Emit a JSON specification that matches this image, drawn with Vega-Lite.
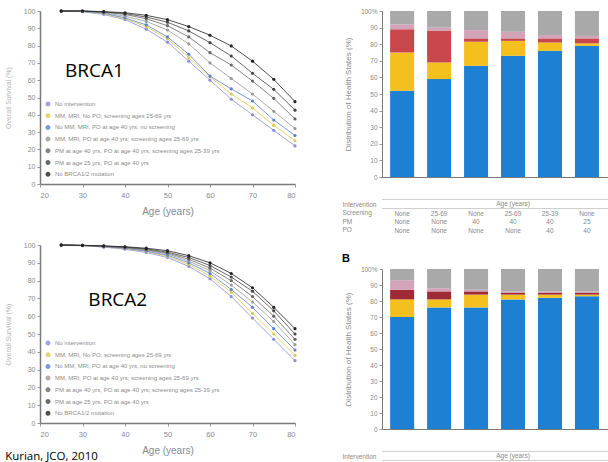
{
  "$schema": "https://vega.github.io/schema/vega-lite/v6.json",
  "background": "white",
  "padding": {"left": 4, "top": 7, "right": 0, "bottom": 0},
  "config": {
    "font": "Liberation Sans",
    "view": {"stroke": null},
    "axis": {"grid": false, "domainColor": "#7a7a7a", "tickColor": "#9a9a9a", "labelColor": "#8a8a8a", "titleColor": "#8a8a8a", "titleFontWeight": "normal", "labelFontSize": 7, "tickSize": 3, "labelOverlap": false}
  },
  "datasets": {
    "brca1": [
      {"age": 25, "s1": 100, "s2": 100, "s3": 100, "s4": 100, "s5": 100, "s6": 100, "s7": 100},
      {"age": 30, "s1": 99.6, "s2": 99.7, "s3": 99.8, "s4": 99.8, "s5": 100, "s6": 100, "s7": 100},
      {"age": 35, "s1": 98, "s2": 98.5, "s3": 98.8, "s4": 99, "s5": 99.3, "s6": 99.5, "s7": 99.6},
      {"age": 40, "s1": 95, "s2": 95.5, "s3": 96, "s4": 97, "s5": 98, "s6": 98.5, "s7": 99},
      {"age": 45, "s1": 89.5, "s2": 91, "s3": 92, "s4": 94, "s5": 95.5, "s6": 96.5, "s7": 97.5},
      {"age": 50, "s1": 82, "s2": 84, "s3": 85, "s4": 89, "s5": 91.5, "s6": 93.5, "s7": 95},
      {"age": 55, "s1": 71, "s2": 73, "s3": 75, "s4": 81, "s5": 85, "s6": 88.5, "s7": 91},
      {"age": 60, "s1": 60, "s2": 62, "s3": 62.4, "s4": 70, "s5": 75.9, "s6": 81.7, "s7": 86},
      {"age": 65, "s1": 49, "s2": 52, "s3": 55, "s4": 61, "s5": 68.8, "s6": 74, "s7": 79.8},
      {"age": 70, "s1": 40, "s2": 44, "s3": 48, "s4": 52, "s5": 59.5, "s6": 64, "s7": 71},
      {"age": 75, "s1": 31, "s2": 34, "s3": 37, "s4": 42, "s5": 49.5, "s6": 54.7, "s7": 60.5},
      {"age": 80, "s1": 22, "s2": 25, "s3": 28, "s4": 32, "s5": 37.6, "s6": 42.7, "s7": 47.6}
    ],
    "brca2": [
      {"age": 25, "s1": 100, "s2": 100, "s3": 100, "s4": 100, "s5": 100, "s6": 100, "s7": 100},
      {"age": 30, "s1": 99.6, "s2": 99.6, "s3": 99.7, "s4": 99.7, "s5": 99.8, "s6": 99.8, "s7": 99.8},
      {"age": 35, "s1": 98.8, "s2": 99, "s3": 99.1, "s4": 99.2, "s5": 99.3, "s6": 99.4, "s7": 99.5},
      {"age": 40, "s1": 97.6, "s2": 98, "s3": 98.2, "s4": 98.4, "s5": 98.6, "s6": 98.8, "s7": 99},
      {"age": 45, "s1": 95.8, "s2": 96.3, "s3": 96.6, "s4": 97, "s5": 97.4, "s6": 97.8, "s7": 98.2},
      {"age": 50, "s1": 93, "s2": 93.7, "s3": 94.3, "s4": 95, "s5": 95.5, "s6": 96, "s7": 96.8},
      {"age": 55, "s1": 88, "s2": 89, "s3": 90, "s4": 91, "s5": 92, "s6": 93, "s7": 94},
      {"age": 60, "s1": 81, "s2": 82.5, "s3": 84, "s4": 85.5, "s5": 87, "s6": 88.5, "s7": 90},
      {"age": 65, "s1": 71, "s2": 73.5, "s3": 75, "s4": 77.5, "s5": 80, "s6": 82, "s7": 84},
      {"age": 70, "s1": 59, "s2": 61.6, "s3": 65, "s4": 68, "s5": 71, "s6": 74, "s7": 76},
      {"age": 75, "s1": 47, "s2": 50, "s3": 53, "s4": 57, "s5": 60, "s6": 63, "s7": 65},
      {"age": 80, "s1": 35, "s2": 38, "s3": 41, "s4": 44, "s5": 47, "s6": 50, "s7": 53}
    ],
    "barsA": [
      {"iv": "None|None|None", "e_well": 52, "d_bc": 23, "c_oc": 14, "b_oth": 3, "a_dead": 8},
      {"iv": "25-69|None|None", "e_well": 59, "d_bc": 10, "c_oc": 19, "b_oth": 2, "a_dead": 10},
      {"iv": "None|40|None", "e_well": 67, "d_bc": 14.5, "c_oc": 2, "b_oth": 5, "a_dead": 11.5},
      {"iv": "25-69|40|None", "e_well": 73, "d_bc": 9, "c_oc": 1.5, "b_oth": 4, "a_dead": 12.5},
      {"iv": "25-39|40|40", "e_well": 76, "d_bc": 5, "c_oc": 2.5, "b_oth": 2, "a_dead": 14.5},
      {"iv": "None|25|40", "e_well": 79, "d_bc": 1.5, "c_oc": 3, "b_oth": 1.5, "a_dead": 15},
      {"iv": "25-69|25|40", "e_well": 80, "d_bc": 1, "c_oc": 3, "b_oth": 1, "a_dead": 15},
      {"iv": "None|None|40", "e_well": 82, "d_bc": 1, "c_oc": 2, "b_oth": 1, "a_dead": 14}
    ],
    "barsB": [
      {"iv": "None|None|None", "e_well": 70, "d_bc": 11, "c_oc": 6, "b_oth": 6, "a_dead": 7},
      {"iv": "25-69|None|None", "e_well": 76, "d_bc": 5, "c_oc": 5, "b_oth": 2, "a_dead": 12},
      {"iv": "None|40|None", "e_well": 76, "d_bc": 8, "c_oc": 2, "b_oth": 1, "a_dead": 13},
      {"iv": "25-69|40|None", "e_well": 81, "d_bc": 3, "c_oc": 1, "b_oth": 1, "a_dead": 14},
      {"iv": "25-39|40|40", "e_well": 82, "d_bc": 2, "c_oc": 1, "b_oth": 1, "a_dead": 14},
      {"iv": "None|25|40", "e_well": 83, "d_bc": 1, "c_oc": 1, "b_oth": 1, "a_dead": 14},
      {"iv": "25-69|25|40", "e_well": 84, "d_bc": 1, "c_oc": 1, "b_oth": 1, "a_dead": 13},
      {"iv": "None|None|40", "e_well": 85, "d_bc": 1, "c_oc": 1, "b_oth": 1, "a_dead": 12}
    ]
  },
  "hconcat": [
    {
      "vconcat": [
        {
          "width": 255,
          "height": 173,
          "layer": [
            {
              "data": {"name": "brca1"},
              "transform": [{"fold": ["s1", "s2", "s3", "s4", "s5", "s6", "s7"], "as": ["key", "v"]}],
              "mark": {"type": "line", "strokeWidth": 1, "opacity": 0.8, "point": {"size": 10, "filled": true}},
              "encoding": {
                "x": {"field": "age", "type": "quantitative", "scale": {"domain": [20, 80], "nice": false}, "axis": {"values": [20, 30, 40, 50, 60, 70, 80], "title": "Age (years)", "titleFontSize": 10, "labelFontSize": 7.5, "labelPadding": 4, "titlePadding": 8, "domainWidth": 1.5}},
                "y": {"field": "v", "type": "quantitative", "scale": {"domain": [0, 100], "nice": false}, "axis": {"values": [0, 10, 20, 30, 40, 50, 60, 70, 80, 90, 100], "title": "Overall Survival (%)", "titleFontSize": 7, "titlePadding": 12, "titleColor": "#b5b5b5", "domainWidth": 1.5}},
                "color": {"field": "key", "type": "nominal", "scale": {"domain": ["s1", "s2", "s3", "s4", "s5", "s6", "s7"], "range": ["#8c8ce0", "#d9cc4a", "#5a7fd6", "#999999", "#666666", "#444444", "#222222"]},
                  "legend": {"orient": "bottom-left", "offset": 5, "title": null, "labelExpr": "['No intervention','MM, MRI, No PO; screening ages 25-69 yrs','No MM, MRI, PO at age 40 yrs, no screening','MM, MRI, PO at age 40 yrs; screening ages 25-69 yrs','PM at age 40 yrs, PO at age 40 yrs; screening ages 25-39 yrs','PM at age 25 yrs, PO at age 40 yrs','No BRCA1/2 mutation'][toNumber(substring(datum.label,1))-1]", "labelFontSize": 6, "labelColor": "#8c8c8c", "symbolSize": 12, "rowPadding": 1.7, "labelLimit": 260}}
              }
            },
            {
              "data": {"values": [{}]},
              "mark": {"type": "text", "fontSize": 19, "font": "Open Sans", "color": "black"},
              "encoding": {
                "x": {"datum": 32.8, "type": "quantitative", "axis": {"values": [20, 30, 40, 50, 60, 70, 80], "title": "Age (years)", "titleFontSize": 10, "labelFontSize": 7.5, "labelPadding": 4, "titlePadding": 8, "domainWidth": 1.5}},
                "y": {"datum": 65.3, "type": "quantitative", "axis": {"values": [0, 10, 20, 30, 40, 50, 60, 70, 80, 90, 100], "title": "Overall Survival (%)", "titleFontSize": 7, "titlePadding": 12, "titleColor": "#b5b5b5", "domainWidth": 1.5}},
                "text": {"value": "BRCA1"}
              }
            }
          ]
        },
        {
          "width": 255,
          "height": 178,
          "layer": [
            {
              "data": {"name": "brca2"},
              "transform": [{"fold": ["s1", "s2", "s3", "s4", "s5", "s6", "s7"], "as": ["key", "v"]}],
              "mark": {"type": "line", "strokeWidth": 1, "opacity": 0.8, "point": {"size": 10, "filled": true}},
              "encoding": {
                "x": {"field": "age", "type": "quantitative", "scale": {"domain": [20, 80], "nice": false}, "axis": {"values": [20, 30, 40, 50, 60, 70, 80], "title": "Age (years)", "titleFontSize": 10, "labelFontSize": 7.5, "labelPadding": 4, "titlePadding": 8, "domainWidth": 1.5}},
                "y": {"field": "v", "type": "quantitative", "scale": {"domain": [0, 100], "nice": false}, "axis": {"values": [0, 10, 20, 30, 40, 50, 60, 70, 80, 90, 100], "title": "Overall Survival (%)", "titleFontSize": 7, "titlePadding": 12, "titleColor": "#b5b5b5", "domainWidth": 1.5}},
                "color": {"field": "key", "type": "nominal", "scale": {"domain": ["s1", "s2", "s3", "s4", "s5", "s6", "s7"], "range": ["#8c8ce0", "#d9cc4a", "#5a7fd6", "#999999", "#666666", "#444444", "#222222"]},
                  "legend": {"orient": "bottom-left", "offset": 5, "title": null, "labelExpr": "['No intervention','MM, MRI, No PO; screening ages 25-69 yrs','No MM, MRI, PO at age 40 yrs, no screening','MM, MRI, PO at age 40 yrs; screening ages 25-69 yrs','PM at age 40 yrs, PO at age 40 yrs; screening ages 25-39 yrs','PM at age 25 yrs, PO at age 40 yrs','No BRCA1/2 mutation'][toNumber(substring(datum.label,1))-1]", "labelFontSize": 6, "labelColor": "#8c8c8c", "symbolSize": 12, "rowPadding": 1.7, "labelLimit": 260}}
              }
            },
            {
              "data": {"values": [{}]},
              "mark": {"type": "text", "fontSize": 19, "font": "Open Sans", "color": "black"},
              "encoding": {
                "x": {"datum": 38.3, "type": "quantitative", "axis": {"values": [20, 30, 40, 50, 60, 70, 80], "title": "Age (years)", "titleFontSize": 10, "labelFontSize": 7.5, "labelPadding": 4, "titlePadding": 8, "domainWidth": 1.5}},
                "y": {"datum": 69, "type": "quantitative", "axis": {"values": [0, 10, 20, 30, 40, 50, 60, 70, 80, 90, 100], "title": "Overall Survival (%)", "titleFontSize": 7, "titlePadding": 12, "titleColor": "#b5b5b5", "domainWidth": 1.5}},
                "text": {"value": "BRCA2"}
              }
            },
            {
              "data": {"values": [{}]},
              "mark": {"type": "text", "fontSize": 11.5, "font": "Open Sans", "color": "black", "align": "left", "baseline": "middle"},
              "encoding": {
                "x": {"datum": 11.8, "type": "quantitative", "axis": {"values": [20, 30, 40, 50, 60, 70, 80], "title": "Age (years)", "titleFontSize": 10, "labelFontSize": 7.5, "labelPadding": 4, "titlePadding": 8, "domainWidth": 1.5}},
                "y": {"datum": -19.1, "type": "quantitative", "axis": {"values": [0, 10, 20, 30, 40, 50, 60, 70, 80, 90, 100], "title": "Overall Survival (%)", "titleFontSize": 7, "titlePadding": 12, "titleColor": "#b5b5b5", "domainWidth": 1.5}},
                "text": {"value": "Kurian, JCO, 2010"}
              }
            }
          ]
        }
      ],
      "spacing": 24,
      "resolve": {"scale": {"color": "independent"}, "legend": {"color": "independent"}}
    },
    {
      "vconcat": [
        {
          "width": 299,
          "height": 166,
          "layer": [
            {
              "data": {"name": "barsA"},
              "transform": [{"fold": ["e_well", "d_bc", "c_oc", "b_oth", "a_dead"], "as": ["state", "pct"]}],
              "mark": {"type": "bar"},
              "encoding": {
                "x": {"field": "iv", "type": "nominal", "sort": null, "scale": {"paddingInner": 0.35, "paddingOuter": 0.22},
                  "axis": {"labelExpr": "split(datum.label,'|')", "labelAngle": 0, "labelPadding": 33, "tickSize": 0, "ticks": false, "labelFontSize": 6.5, "labelLineHeight": 8.5, "title": ["Intervention", "Screening", "PM", "PO"], "titleFontSize": 6.5, "titleLineHeight": 8.5, "titleAlign": "left", "titleAnchor": "start", "titleBaseline": "top", "titleX": -40, "titleY": 24}},
                "y": {"field": "pct", "type": "quantitative", "stack": "zero", "scale": {"domain": [0, 100], "nice": false},
                  "axis": {"values": [0, 10, 20, 30, 40, 50, 60, 70, 80, 90, 100], "labelExpr": "datum.value == 100 ? '100%' : datum.label", "labelFontSize": 6.5, "title": "Distribution of Health States (%)", "titleFontSize": 8, "titlePadding": 8}},
                "color": {"field": "state", "type": "nominal", "scale": {"domain": ["e_well", "d_bc", "c_oc", "b_oth", "a_dead"], "range": ["#1e80d2", "#f4c01e", "#c8474c", "#d3a3b8", "#a9a9a9"]}, "legend": null}
              }
            },
            {
              "data": {"values": [{}]},
              "mark": {"type": "rule", "color": "#cfcfcf", "strokeWidth": 1},
              "encoding": {"y": {"datum": -13.5, "type": "quantitative", "axis": {"values": [0, 10, 20, 30, 40, 50, 60, 70, 80, 90, 100], "labelExpr": "datum.value == 100 ? '100%' : datum.label", "labelFontSize": 6.5, "title": "Distribution of Health States (%)", "titleFontSize": 8, "titlePadding": 8}}}
            },
            {
              "data": {"values": [{}]},
              "mark": {"type": "rule", "color": "#cfcfcf", "strokeWidth": 1},
              "encoding": {"y": {"datum": -19, "type": "quantitative", "axis": {"values": [0, 10, 20, 30, 40, 50, 60, 70, 80, 90, 100], "labelExpr": "datum.value == 100 ? '100%' : datum.label", "labelFontSize": 6.5, "title": "Distribution of Health States (%)", "titleFontSize": 8, "titlePadding": 8}}}
            },
            {
              "data": {"values": [{}]},
              "mark": {"type": "text", "fontSize": 6.5, "color": "#8a8a8a"},
              "encoding": {
                "x": {"datum": "25-69|40|None", "type": "nominal", "axis": {"labelExpr": "split(datum.label,'|')", "labelAngle": 0, "labelPadding": 33, "tickSize": 0, "ticks": false, "labelFontSize": 6.5, "labelLineHeight": 8.5, "title": ["Intervention", "Screening", "PM", "PO"], "titleFontSize": 6.5, "titleLineHeight": 8.5, "titleAlign": "left", "titleAnchor": "start", "titleBaseline": "top", "titleX": -40, "titleY": 24}},
                "y": {"datum": -16.3, "type": "quantitative", "axis": {"values": [0, 10, 20, 30, 40, 50, 60, 70, 80, 90, 100], "labelExpr": "datum.value == 100 ? '100%' : datum.label", "labelFontSize": 6.5, "title": "Distribution of Health States (%)", "titleFontSize": 8, "titlePadding": 8}},
                "text": {"value": "Age (years)"}
              }
            }
          ]
        },
        {
          "width": 299,
          "height": 160,
          "title": {"text": "B", "anchor": "start", "fontSize": 11, "fontWeight": "bold", "offset": 2},
          "layer": [
            {
              "data": {"name": "barsB"},
              "transform": [{"fold": ["e_well", "d_bc", "c_oc", "b_oth", "a_dead"], "as": ["state", "pct"]}],
              "mark": {"type": "bar"},
              "encoding": {
                "x": {"field": "iv", "type": "nominal", "sort": null, "scale": {"paddingInner": 0.35, "paddingOuter": 0.22},
                  "axis": {"labelExpr": "split(datum.label,'|')", "labelAngle": 0, "labelPadding": 33, "tickSize": 0, "ticks": false, "labelFontSize": 6.5, "labelLineHeight": 8.5, "title": ["Intervention", "Screening", "PM", "PO"], "titleFontSize": 6.5, "titleLineHeight": 8.5, "titleAlign": "left", "titleAnchor": "start", "titleBaseline": "top", "titleX": -40, "titleY": 24}},
                "y": {"field": "pct", "type": "quantitative", "stack": "zero", "scale": {"domain": [0, 100], "nice": false},
                  "axis": {"values": [0, 10, 20, 30, 40, 50, 60, 70, 80, 90, 100], "labelExpr": "datum.value == 100 ? '100%' : datum.label", "labelFontSize": 6.5, "title": "Distribution of Health States (%)", "titleFontSize": 8, "titlePadding": 8}},
                "color": {"field": "state", "type": "nominal", "scale": {"domain": ["e_well", "d_bc", "c_oc", "b_oth", "a_dead"], "range": ["#1e80d2", "#f4c01e", "#9e2a38", "#d3a3b8", "#a9a9a9"]}, "legend": null}
              }
            },
            {
              "data": {"values": [{}]},
              "mark": {"type": "rule", "color": "#cfcfcf", "strokeWidth": 1},
              "encoding": {"y": {"datum": -14, "type": "quantitative", "axis": {"values": [0, 10, 20, 30, 40, 50, 60, 70, 80, 90, 100], "labelExpr": "datum.value == 100 ? '100%' : datum.label", "labelFontSize": 6.5, "title": "Distribution of Health States (%)", "titleFontSize": 8, "titlePadding": 8}}}
            },
            {
              "data": {"values": [{}]},
              "mark": {"type": "rule", "color": "#cfcfcf", "strokeWidth": 1},
              "encoding": {"y": {"datum": -19.7, "type": "quantitative", "axis": {"values": [0, 10, 20, 30, 40, 50, 60, 70, 80, 90, 100], "labelExpr": "datum.value == 100 ? '100%' : datum.label", "labelFontSize": 6.5, "title": "Distribution of Health States (%)", "titleFontSize": 8, "titlePadding": 8}}}
            },
            {
              "data": {"values": [{}]},
              "mark": {"type": "text", "fontSize": 6.5, "color": "#8a8a8a"},
              "encoding": {
                "x": {"datum": "25-69|40|None", "type": "nominal", "axis": {"labelExpr": "split(datum.label,'|')", "labelAngle": 0, "labelPadding": 33, "tickSize": 0, "ticks": false, "labelFontSize": 6.5, "labelLineHeight": 8.5, "title": ["Intervention", "Screening", "PM", "PO"], "titleFontSize": 6.5, "titleLineHeight": 8.5, "titleAlign": "left", "titleAnchor": "start", "titleBaseline": "top", "titleX": -40, "titleY": 24}},
                "y": {"datum": -16.9, "type": "quantitative", "axis": {"values": [0, 10, 20, 30, 40, 50, 60, 70, 80, 90, 100], "labelExpr": "datum.value == 100 ? '100%' : datum.label", "labelFontSize": 6.5, "title": "Distribution of Health States (%)", "titleFontSize": 8, "titlePadding": 8}},
                "text": {"value": "Age (years)"}
              }
            }
          ]
        }
      ],
      "spacing": 19,
      "resolve": {"scale": {"color": "independent"}}
    }
  ],
  "spacing": 45,
  "resolve": {"scale": {"color": "independent"}, "legend": {"color": "independent"}}
}
